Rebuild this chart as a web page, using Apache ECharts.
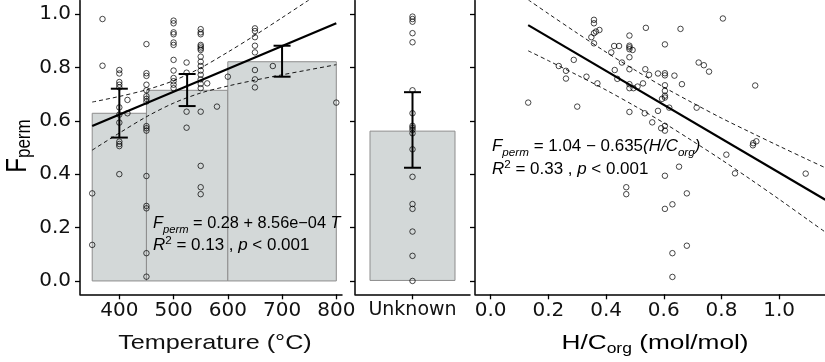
<!DOCTYPE html>
<html><head><meta charset="utf-8">
<script src="https://cdn.jsdelivr.net/npm/echarts@6/dist/echarts.min.js"></script>
<style>html,body{margin:0;padding:0;background:#fff}#c{width:825px;height:362px}</style>
</head><body><div id="c"></div>
<script>
// ---------- Panel 1: Temperature ----------
const tempBinStart = [350, 450, 600];
const tempBinEnd   = [450, 600, 800];
const tempBinMean  = [0.628, 0.714, 0.821];
const tempErrX     = [400, 525, 700];
const tempErrLow   = [0.537, 0.655, 0.765];
const tempErrHigh  = [0.720, 0.775, 0.881];
const tempPoints = [
  [350,0.328],[350,0.135],
  [369,0.981],[369,0.806],
  [400,0.790],[400,0.777],[400,0.745],[400,0.735],[400,0.725],[400,0.650],[400,0.623],[400,0.593],[400,0.522],[400,0.513],[400,0.505],[400,0.400],
  [415,0.678],[415,0.628],
  [450,0.887],[450,0.778],[450,0.768],[450,0.735],[450,0.714],[450,0.692],[450,0.682],[450,0.672],[450,0.580],[450,0.572],[450,0.563],[450,0.393],[450,0.281],[450,0.272],[450,0.104],[450,0.016],
  [500,0.975],[500,0.965],[500,0.931],[500,0.924],[500,0.893],[500,0.884],[500,0.828],[500,0.788],[500,0.760],[500,0.748],[500,0.735],[500,0.722],
  [524,0.818],[524,0.780],[524,0.634],[524,0.574],
  [550,0.943],[550,0.931],[550,0.924],[550,0.884],[550,0.878],[550,0.871],[550,0.865],[550,0.840],[550,0.821],[550,0.805],[550,0.788],[550,0.772],[550,0.755],[550,0.738],[550,0.722],[550,0.634],[550,0.431],[550,0.351],[550,0.325],
  [562,0.740],[580,0.653],[600,0.765],
  [650,0.946],[650,0.936],[650,0.913],[650,0.881],[650,0.856],[650,0.790],[650,0.755],[650,0.725],
  [683,0.805],[800,0.668]
];
const tempFitLine = [[350,0.580],[800,0.965]];
const tempBandUpper = [[350,0.670],[400,0.691],[450,0.716],[500,0.750],[550,0.798],[600,0.857],[650,0.920],[700,0.986],[750,1.053],[800,1.120]];
const tempBandLower = [[350,0.490],[400,0.554],[450,0.615],[500,0.666],[550,0.704],[600,0.730],[650,0.752],[700,0.772],[750,0.791],[800,0.810]];
const tempTicks = [400, 500, 600, 700, 800];

// ---------- Panel 2: Unknown ----------
const unknownCategory = ['Unknown'];
const unknownMean = [0.563];
const unknownErrLow = [0.424];
const unknownErrHigh = [0.707];
const unknownValues = [0.990,0.981,0.971,0.928,0.894,0.714,0.628,0.581,0.574,0.566,0.553,0.493,0.390,0.288,0.270,0.185,0.094,0.000];

// ---------- Panel 3: H/C ----------
const hcPoints = [
  [0.130,0.668],[0.236,0.805],[0.261,0.787],[0.261,0.758],[0.288,0.828],[0.300,0.653],[0.332,0.765],[0.349,0.913],
  [0.358,0.978],[0.358,0.965],[0.358,0.928],[0.358,0.890],[0.365,0.934],[0.377,0.940],[0.370,0.740],[0.418,0.856],
  [0.428,0.880],[0.445,0.880],[0.430,0.790],[0.439,0.757],[0.455,0.818],[0.481,0.919],[0.481,0.881],[0.481,0.875],
  [0.481,0.868],[0.492,0.865],[0.481,0.838],[0.481,0.793],[0.481,0.737],[0.481,0.722],[0.495,0.722],[0.481,0.633],
  [0.470,0.351],[0.470,0.325],[0.509,0.728],[0.528,0.740],[0.536,0.793],[0.538,0.948],[0.549,0.772],[0.534,0.628],
  [0.560,0.594],[0.580,0.777],[0.580,0.637],[0.591,0.572],[0.604,0.581],[0.604,0.563],[0.604,0.886],[0.604,0.778],
  [0.604,0.770],[0.604,0.733],[0.604,0.712],[0.604,0.694],[0.604,0.687],[0.594,0.682],[0.604,0.394],[0.604,0.270],
  [0.619,0.649],[0.630,0.287],[0.630,0.104],[0.630,0.015],[0.637,0.769],[0.653,0.428],[0.658,0.944],[0.663,0.737],
  [0.680,0.328],[0.680,0.132],[0.714,0.649],[0.721,0.818],[0.739,0.808],[0.757,0.784],[0.805,0.983],[0.817,0.473],
  [0.847,0.403],[0.909,0.508],[0.910,0.516],[0.921,0.523],[0.917,0.732],[1.092,0.402]
];
const hcFitLine = [[0.130,0.958],[1.160,0.304]];
const hcBandUpper = [[0.13,1.053],[0.2,1.001],[0.3,0.928],[0.4,0.857],[0.5,0.790],[0.6,0.726],[0.7,0.667],[0.8,0.610],[0.9,0.557],[1.0,0.505],[1.1,0.454],[1.16,0.424]];
const hcBandLower = [[0.13,0.862],[0.2,0.825],[0.3,0.771],[0.4,0.715],[0.5,0.655],[0.6,0.592],[0.7,0.524],[0.8,0.454],[0.9,0.381],[1.0,0.306],[1.1,0.229],[1.16,0.183]];
const hcTicks = [0.0, 0.2, 0.4, 0.6, 0.8, 1.0];

const yTicks = [0.0, 0.2, 0.4, 0.6, 0.8, 1.0];

// ---------- styles ----------
const FONT = 'Liberation Sans';
const TICKFONT = 'DejaVu Sans';
const TICKSIZE = 20;
const BAR_FILL = '#d3d8d8';
const BAR_EDGE = '#8d8d8d';

const chart = echarts.init(document.getElementById('c'), null, {renderer: 'canvas'});

function axisBase(extra) {
  return Object.assign({
    axisLine: {show: true, onZero: false, lineStyle: {color: '#000', width: 1.5}},
    splitLine: {show: false},
  }, extra);
}

const xAxes = [
  axisBase({type: 'value', gridIndex: 0, min: 327.5, max: 810.5,
    axisTick: {show: true, length: 5, customValues: tempTicks, lineStyle: {color: '#000', width: 1.3}},
    axisLabel: {show: true, customValues: tempTicks, margin: 6, fontFamily: TICKFONT, fontSize: TICKSIZE, color: '#111'}}),
  axisBase({type: 'category', gridIndex: 1, data: unknownCategory, boundaryGap: true,
    axisTick: {show: true, length: 5, alignWithLabel: true, lineStyle: {color: '#000', width: 1.3}},
    axisLabel: {show: true, margin: 6, fontFamily: TICKFONT, fontSize: 19, color: '#111'}}),
  axisBase({type: 'value', gridIndex: 2, min: -0.0544, max: 1.159,
    axisTick: {show: true, length: 5, customValues: hcTicks, lineStyle: {color: '#000', width: 1.3}},
    axisLabel: {show: true, customValues: hcTicks, margin: 6, fontFamily: TICKFONT, fontSize: TICKSIZE, color: '#111',
      formatter: v => v.toFixed(1)}})
];
const yAxes = [0, 1, 2].map(i => axisBase({type: 'value', gridIndex: i, min: -0.05, max: 1.05,
  axisTick: {show: true, length: 5, customValues: yTicks, lineStyle: {color: '#000', width: 1.3}},
  axisLabel: {show: i === 0, customValues: yTicks, margin: 9, fontFamily: TICKFONT, fontSize: TICKSIZE, color: '#111',
    formatter: v => v.toFixed(1)}}));

const pointStyle = {color: 'rgba(0,0,0,0)', borderColor: '#000', borderWidth: 0.9};

function errRender(params, api) {
  const x = api.value(0), lo = api.value(1), hi = api.value(2);
  const pl = api.coord([x, lo]), ph = api.coord([x, hi]);
  const w = 8.5, st = {stroke: '#000', lineWidth: 2};
  return {type: 'group', children: [
    {type: 'line', shape: {x1: pl[0], y1: pl[1], x2: ph[0], y2: ph[1]}, style: st},
    {type: 'line', shape: {x1: pl[0] - w, y1: pl[1], x2: pl[0] + w, y2: pl[1]}, style: st},
    {type: 'line', shape: {x1: ph[0] - w, y1: ph[1], x2: ph[0] + w, y2: ph[1]}, style: st}
  ]};
}

const series = [
  // panel 1 bins
  {type: 'custom', xAxisIndex: 0, yAxisIndex: 0, z: 1,
    data: tempBinStart.map((s, i) => [s, tempBinEnd[i], tempBinMean[i]]),
    encode: {x: [0, 1], y: 2},
    renderItem: (params, api) => {
      const p0 = api.coord([api.value(0), 0]);
      const p1 = api.coord([api.value(1), api.value(2)]);
      return {type: 'rect', shape: {x: p0[0], y: p1[1], width: p1[0] - p0[0], height: p0[1] - p1[1]},
        style: {fill: BAR_FILL, stroke: BAR_EDGE, lineWidth: 1}};
    }},
  {type: 'scatter', xAxisIndex: 0, yAxisIndex: 0, z: 3, symbol: 'circle', symbolSize: 5.5,
    data: tempPoints, itemStyle: pointStyle},
  {type: 'line', xAxisIndex: 0, yAxisIndex: 0, z: 4, data: tempFitLine, symbol: 'none',
    lineStyle: {color: '#000', width: 2.2}},
  {type: 'line', xAxisIndex: 0, yAxisIndex: 0, z: 4, data: tempBandUpper, symbol: 'none', smooth: 0.3,
    lineStyle: {color: '#000', width: 0.9, type: [4, 3]}},
  {type: 'line', xAxisIndex: 0, yAxisIndex: 0, z: 4, data: tempBandLower, symbol: 'none', smooth: 0.3,
    lineStyle: {color: '#000', width: 0.9, type: [4, 3]}},
  {type: 'custom', xAxisIndex: 0, yAxisIndex: 0, z: 5,
    data: tempErrX.map((x, i) => [x, tempErrLow[i], tempErrHigh[i]]),
    encode: {x: 0, y: [1, 2]}, renderItem: errRender},
  // panel 2
  {type: 'bar', xAxisIndex: 1, yAxisIndex: 1, z: 1, barWidth: 86, data: unknownMean,
    itemStyle: {color: BAR_FILL, borderColor: BAR_EDGE, borderWidth: 1}},
  {type: 'scatter', xAxisIndex: 1, yAxisIndex: 1, z: 3, symbol: 'circle', symbolSize: 5.5,
    data: unknownValues.map(v => [unknownCategory[0], v]), itemStyle: pointStyle},
  {type: 'custom', xAxisIndex: 1, yAxisIndex: 1, z: 5,
    data: unknownErrLow.map((lo, i) => [i, lo, unknownErrHigh[i]]),
    encode: {x: 0, y: [1, 2]}, renderItem: errRender},
  // panel 3
  {type: 'scatter', xAxisIndex: 2, yAxisIndex: 2, z: 3, symbol: 'circle', symbolSize: 5.5,
    data: hcPoints, itemStyle: pointStyle},
  {type: 'line', xAxisIndex: 2, yAxisIndex: 2, z: 4, data: hcFitLine, symbol: 'none',
    lineStyle: {color: '#000', width: 2.2}},
  {type: 'line', xAxisIndex: 2, yAxisIndex: 2, z: 4, data: hcBandUpper, symbol: 'none', smooth: 0.3,
    lineStyle: {color: '#000', width: 0.9, type: [4, 3]}},
  {type: 'line', xAxisIndex: 2, yAxisIndex: 2, z: 4, data: hcBandLower, symbol: 'none', smooth: 0.3,
    lineStyle: {color: '#000', width: 0.9, type: [4, 3]}}
];

const annSize = 16;
const annRich = {
  n: {fontFamily: FONT, fontSize: annSize, lineHeight: 22, color: '#111'},
  i: {fontFamily: FONT, fontSize: annSize, fontStyle: 'italic', lineHeight: 22, color: '#111'},
  sub: {fontFamily: FONT, fontSize: 11, fontStyle: 'italic', lineHeight: 10, verticalAlign: 'bottom', color: '#111'},
  subi: {fontFamily: FONT, fontSize: 11, fontStyle: 'italic', lineHeight: 10, verticalAlign: 'bottom', color: '#111'},
  sup: {fontFamily: FONT, fontSize: 11, lineHeight: 10, verticalAlign: 'top', color: '#111'}
};
function ann(x, y, text, sx) {
  return {type: 'text', x: x, y: y, scaleX: sx, z: 10,
    style: {text: text, rich: annRich, align: 'left', verticalAlign: 'middle', fontFamily: FONT, fontSize: annSize}};
}

const graphic = [
  ann(153, 224, '{i|F}{sub|perm}{n| = 0.28 + 8.56e\u221204 }{i|T}', 1.02),
  ann(153, 246, '{i|R}{sup|2}{n| = 0.13 , }{i|p}{n| < 0.001}', 1.06),
  ann(492, 147, '{i|F}{sub|perm}{n| = 1.04 \u2212 0.635}{i|(H/C}{subi|org}{i|)}', 1.06),
  ann(492, 170, '{i|R}{sup|2}{n| = 0.33 , }{i|p}{n| < 0.001}', 1.06),
  {type: 'text', x: 215, y: 343, scaleX: 1.2, z: 10,
    style: {text: 'Temperature (°C)', align: 'center', verticalAlign: 'middle', fontFamily: FONT, fontSize: 21, fill: '#111'}},
  {type: 'text', x: 655, y: 343, scaleX: 1.25, z: 10,
    style: {text: '{n|H/C}{s|org}{n| (mol/mol)}', align: 'center', verticalAlign: 'middle',
      rich: {n: {fontFamily: FONT, fontSize: 21, lineHeight: 26, color: '#111'},
             s: {fontFamily: FONT, fontSize: 14, lineHeight: 12, verticalAlign: 'bottom', color: '#111'}}}},
  {type: 'text', x: 18, y: 146, rotation: Math.PI / 2, scaleY: 1.2, z: 10,
    style: {text: '{b|F}{s|perm}', align: 'center', verticalAlign: 'middle',
      rich: {b: {fontFamily: FONT, fontSize: 24, lineHeight: 28, color: '#111'},
             s: {fontFamily: FONT, fontSize: 17, lineHeight: 14, verticalAlign: 'bottom', color: '#111'}}}}
];

chart.setOption({
  animation: false,
  backgroundColor: '#fff',
  grid: [
    {left: 80, width: 262, top: 0.6, bottom: 67.7, containLabel: false, outerBoundsMode: 'none'},
    {left: 355, width: 115, top: 0.6, bottom: 67.7, containLabel: false, outerBoundsMode: 'none'},
    {left: 475, width: 350, top: 0.6, bottom: 67.7, containLabel: false, outerBoundsMode: 'none'}
  ],
  xAxis: xAxes,
  yAxis: yAxes,
  series: series,
  graphic: graphic
});
</script>
</body></html>
